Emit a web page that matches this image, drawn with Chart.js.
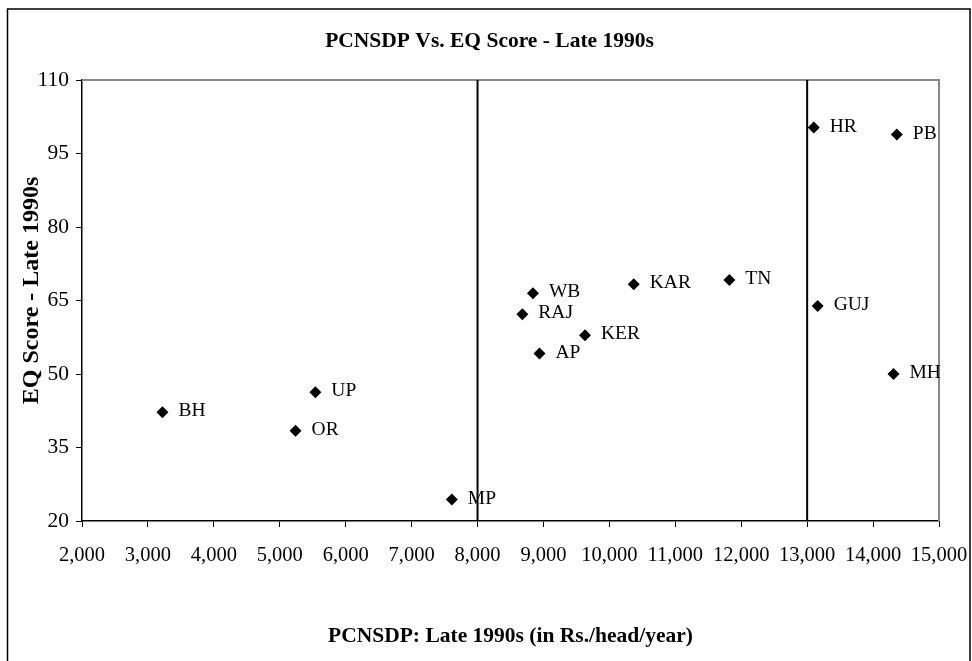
<!DOCTYPE html>
<html>
<head>
<meta charset="utf-8">
<script src="https://cdn.jsdelivr.net/npm/chart.js@4/dist/chart.umd.min.js"></script>
<style>
  html, body { margin: 0; padding: 0; background: #fff; }
  #wrap { width: 972px; height: 661px; }
</style>
</head>
<body>
<div id="wrap"><canvas id="c" width="972" height="661"></canvas></div>
<script>
// ---- data ----
const states = ["BH", "OR", "UP", "MP", "WB", "RAJ", "AP", "KER", "KAR", "TN", "HR", "PB", "GUJ", "MH"];
const pcnsdp = [3220, 5240, 5540, 7610, 8840, 8680, 8940, 9630, 10370, 11820, 13100, 14360, 13160, 14310];
const eqScore = [42.2, 38.4, 46.3, 24.4, 66.5, 62.2, 54.2, 57.9, 68.3, 69.2, 100.3, 98.9, 63.9, 50.0];
const dividerX = [8000, 13000];
const xTickValues = [2000, 3000, 4000, 5000, 6000, 7000, 8000, 9000, 10000, 11000, 12000, 13000, 14000, 15000];
const yTickValues = [20, 35, 50, 65, 80, 95, 110];
const chartTitle = "PCNSDP Vs. EQ Score - Late 1990s";
const xTitle = "PCNSDP: Late 1990s (in Rs./head/year)";
const yTitle = "EQ Score - Late 1990s";

const SERIF = "'Liberation Serif', 'Times New Roman', serif";

const points = pcnsdp.map((x, i) => ({ x: x, y: eqScore[i] }));
const yMin = yTickValues[0], yMax = yTickValues[yTickValues.length - 1];
const dividerSets = dividerX.map(v => ({
  data: [{ x: v, y: yMin }, { x: v, y: yMax }],
  showLine: true,
  borderColor: '#000',
  borderWidth: 2,
  pointRadius: 0,
  fill: false
}));

const framePlugin = {
  id: 'frame',
  beforeDraw(chart) {
    const ctx = chart.ctx;
    ctx.save();
    ctx.fillStyle = '#fff';
    ctx.fillRect(0, 0, chart.width, chart.height);
    ctx.strokeStyle = '#000';
    ctx.lineWidth = 1.5;
    ctx.strokeRect(7.5, 9, 962.5, 700);
    ctx.restore();
  },
  beforeDatasetsDraw(chart) {
    const a = chart.chartArea, ctx = chart.ctx;
    ctx.save();
    ctx.strokeStyle = '#888';
    ctx.lineWidth = 2;
    ctx.beginPath();
    ctx.moveTo(a.left, a.top);
    ctx.lineTo(a.right, a.top);
    ctx.lineTo(a.right, a.bottom);
    ctx.stroke();
    ctx.restore();
  },
  afterDraw(chart) {
    // y-axis title, placed slightly above the plot centre as in the reference
    const a = chart.chartArea, ctx = chart.ctx;
    ctx.save();
    ctx.translate(32, (a.top + a.bottom) / 2 - 10);
    ctx.rotate(-Math.PI / 2);
    ctx.fillStyle = '#000';
    ctx.font = "bold 24px " + SERIF;
    ctx.textAlign = 'center';
    ctx.textBaseline = 'middle';
    ctx.fillText(yTitle, 0, 0);
    ctx.restore();
  }
};

const labelPlugin = {
  id: 'pointLabels',
  afterDatasetsDraw(chart) {
    const meta = chart.getDatasetMeta(0);
    const ctx = chart.ctx;
    ctx.save();
    ctx.fillStyle = '#000';
    ctx.font = "19.5px " + SERIF;
    ctx.textAlign = 'left';
    ctx.textBaseline = 'middle';
    meta.data.forEach((el, i) => {
      ctx.fillText(states[i], el.x + 16, el.y - 1);
    });
    ctx.restore();
  }
};

new Chart(document.getElementById('c'), {
  type: 'scatter',
  data: {
    datasets: [{
      data: points,
      pointStyle: 'rectRot',
      pointRadius: 6,
      pointBackgroundColor: '#000',
      pointBorderColor: '#000',
      pointBorderWidth: 0
    }].concat(dividerSets)
  },
  options: {
    responsive: false,
    devicePixelRatio: 1,
    animation: false,
    layout: { padding: { left: 7, right: 0, top: 0, bottom: 0 } },
    plugins: {
      legend: { display: false },
      tooltip: { enabled: false },
      title: {
        display: true,
        text: chartTitle,
        color: '#000',
        font: { family: SERIF, size: 21.5, weight: 'bold' },
        padding: { top: 29, bottom: 25.2 }
      }
    },
    scales: {
      x: {
        type: 'linear',
        min: xTickValues[0],
        max: xTickValues[xTickValues.length - 1],
        afterBuildTicks: s => { s.ticks = xTickValues.map(v => ({ value: v })); },
        afterFit: s => { s.height = 140; s.paddingLeft = 0; s.paddingRight = 0; },
        ticks: {
          color: '#000',
          font: { family: SERIF, size: 20.5 },
          padding: 16,
          maxRotation: 0,
          autoSkip: false,
          callback: v => Number(v).toLocaleString('en-US')
        },
        grid: { display: true, drawOnChartArea: false, drawTicks: true, tickLength: 6, color: '#000', lineWidth: 1 },
        border: { display: true, color: '#000', width: 1.5 },
        title: {
          display: true,
          text: xTitle,
          color: '#000',
          font: { family: SERIF, size: 21.5, weight: 'bold' },
          padding: { top: 0, bottom: 11.5 }
        }
      },
      y: {
        type: 'linear',
        min: yMin,
        max: yMax,
        afterBuildTicks: s => { s.ticks = yTickValues.map(v => ({ value: v })); },
        afterFit: s => { s.width = 75; s.paddingTop = 0; s.paddingBottom = 0; },
        ticks: {
          color: '#000',
          font: { family: SERIF, size: 21.5 },
          padding: 7,
          autoSkip: false
        },
        grid: { display: true, drawOnChartArea: false, drawTicks: true, tickLength: 6, color: '#000', lineWidth: 1 },
        border: { display: true, color: '#000', width: 1.5 },
        title: { display: false }
      },
      yR: {
        type: 'linear',
        position: 'right',
        display: true,
        grid: { display: false },
        border: { display: false },
        ticks: { display: false },
        afterFit: s => { s.width = 33; }
      }
    }
  },
  plugins: [framePlugin, labelPlugin]
});
</script>
</body>
</html>
